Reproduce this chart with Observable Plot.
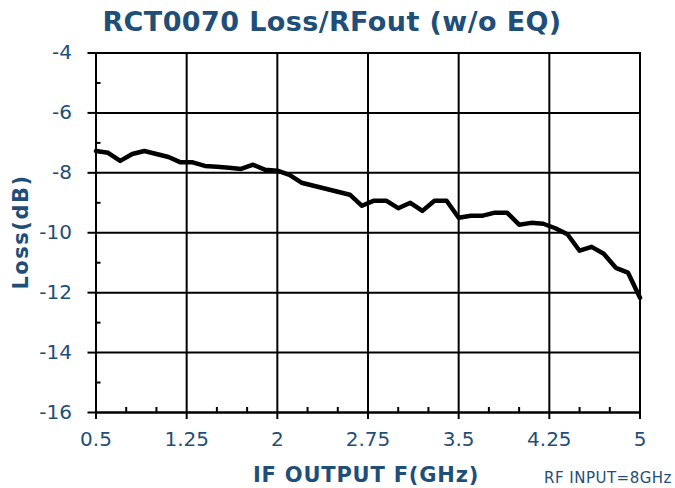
<!DOCTYPE html>
<html>
<head>
<meta charset="utf-8">
<script src="https://cdn.jsdelivr.net/npm/d3@7"></script>
<script src="https://cdn.jsdelivr.net/npm/@observablehq/plot@0.6"></script>
<style>
  html, body { margin: 0; padding: 0; background: #fff; }
  #chart svg { display: block; }
</style>
</head>
<body>
<div id="chart"></div>
<script>
const freq = [0.5,0.6,0.7,0.8,0.9,1.0,1.1,1.2,1.3,1.4,1.5,1.6,1.7,1.8,1.9,2.0,2.1,2.2,2.3,2.4,2.5,2.6,2.7,2.8,2.9,3.0,3.1,3.2,3.3,3.4,3.5,3.6,3.7,3.8,3.9,4.0,4.1,4.2,4.3,4.4,4.5,4.6,4.7,4.8,4.9,5.0];
const loss = [-7.27,-7.33,-7.6,-7.37,-7.27,-7.37,-7.47,-7.65,-7.65,-7.77,-7.8,-7.83,-7.87,-7.73,-7.9,-7.93,-8.07,-8.33,-8.43,-8.53,-8.63,-8.73,-9.1,-8.93,-8.93,-9.18,-9.0,-9.27,-8.93,-8.93,-9.5,-9.43,-9.43,-9.33,-9.33,-9.73,-9.67,-9.7,-9.85,-10.05,-10.6,-10.47,-10.7,-11.17,-11.33,-12.17];
const xTicks = [0.5,1.25,2,2.75,3.5,4.25,5];
const xTickLabels = ["0.5","1.25","2","2.75","3.5","4.25","5"];
const xMinor = [0.75,1.0,1.5,1.75,2.25,2.5,3.0,3.25,3.75,4.0,4.5,4.75];
const yTicks = [-16,-14,-12,-10,-8,-6,-4];
const yMinor = [-15,-13,-11,-9,-7,-5];
const titleText = "RCT0070 Loss/RFout (w/o EQ)";
const xLabel = "IF OUTPUT F(GHz)";
const yLabel = "Loss(dB)";
const noteText = "RF INPUT=8GHz";

const data = freq.map((f, i) => ({f, l: loss[i]}));
const blue = "#1f4e79";
const W = 675, H = 488;
const mL = 95.5, mR = 35.5, mT = 52.5, mB = 76;
const pw = W - mL - mR, ph = H - mT - mB;

const plot = Plot.plot({
  width: W, height: H,
  marginLeft: mL, marginRight: mR, marginTop: mT, marginBottom: mB,
  style: {fontFamily: "DejaVu Sans, Verdana, sans-serif", background: "#fff", overflow: "visible"},
  x: {domain: [0.5, 5], type: "linear"},
  y: {domain: [-16, -4]},
  marks: [
    Plot.gridX(xTicks, {stroke: "black", strokeOpacity: 1, strokeWidth: 2}),
    Plot.gridY(yTicks, {stroke: "black", strokeOpacity: 1, strokeWidth: 2}),
    Plot.tickX(xMinor, {x: d => d, insetTop: ph - 5, stroke: "black", strokeWidth: 2}),
    Plot.tickY(yMinor, {y: d => d, insetRight: pw - 5, stroke: "black", strokeWidth: 2}),
    Plot.axisX(xTicks, {tickSize: 7, tickPadding: 12, tickFormat: (d, i) => xTickLabels[i], fontSize: 20, fill: blue, stroke: "black", strokeWidth: 2, label: null}),
    Plot.axisY(yTicks, {tickSize: 8, tickPadding: 16, fontSize: 20, fill: blue, stroke: "black", strokeWidth: 2, label: null, tickFormat: d => String(d)}),
    Plot.frame({stroke: "black", strokeWidth: 2}),
    Plot.line(data, {x: "f", y: "l", stroke: "black", strokeWidth: 4.5, strokeLinejoin: "round"})
  ]
});

const svg = d3.select(plot);
svg.selectAll('g[aria-label="x-axis tick label"] text, g[aria-label="y-axis tick label"] text').attr("fill", blue).attr("stroke", "none");
svg.append("text").attr("x", 332).attr("y", 31).attr("text-anchor", "middle")
  .attr("font-size", 27).attr("font-weight", "bold").attr("letter-spacing", 0.4).attr("fill", blue).text(titleText);
svg.append("text").attr("x", 366).attr("y", 482).attr("text-anchor", "middle")
  .attr("font-size", 21).attr("font-weight", "bold").attr("letter-spacing", 0.8).attr("fill", blue).text(xLabel);
svg.append("text").attr("x", 672).attr("y", 483).attr("text-anchor", "end")
  .attr("font-size", 15).attr("letter-spacing", 0.5).attr("fill", blue).text(noteText);
svg.append("text").attr("transform", "translate(28,232) rotate(-90)").attr("text-anchor", "middle")
  .attr("font-size", 21).attr("font-weight", "bold").attr("letter-spacing", 1.5).attr("fill", blue).text(yLabel);

document.getElementById("chart").appendChild(plot);
</script>
</body>
</html>
